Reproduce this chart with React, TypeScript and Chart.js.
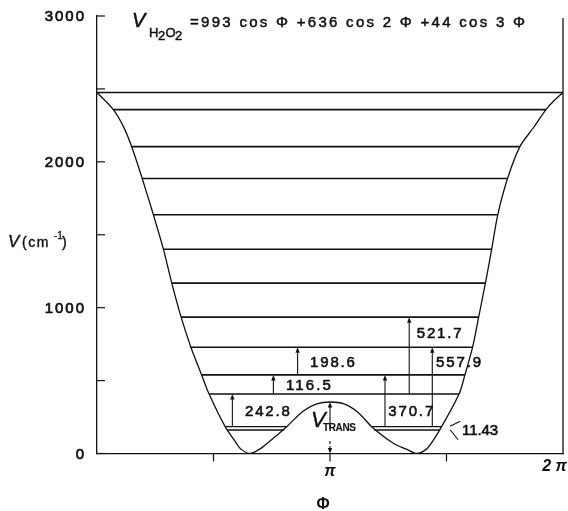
import React, { useEffect, useRef } from "react";
import { Chart, registerables } from "chart.js";
Chart.register(...registerables);

// Potential curve V(Φ), Φ in units of π, V in cm^-1
const curvePhi = [0, 0.07, 0.113, 0.149, 0.194, 0.242, 0.285, 0.321, 0.361, 0.403, 0.449, 0.481, 0.55, 0.59, 0.618, 0.657, 0.698, 0.74, 0.814, 0.886, 0.943, 1.0, 1.06, 1.122, 1.179, 1.272, 1.33, 1.372, 1.414, 1.445, 1.479, 1.554, 1.579, 1.612, 1.638, 1.667, 1.694, 1.72, 1.762, 1.815, 1.872, 1.927, 1.962, 2.0];
const curveV = [2475, 2358, 2243, 2104, 1886, 1637, 1401, 1168, 935, 729, 539, 408, 184, 90, 30, 0, 30, 82, 184, 292, 340, 353, 340, 280, 184, 70, 28, 0, 30, 95, 184, 408, 539, 729, 935, 1168, 1401, 1637, 1886, 2104, 2232, 2358, 2420, 2475];

// Torsional energy levels
const levelV = [2475, 2358, 2104, 1886, 1637, 1401, 1168, 935, 729, 539, 408];
const levelLeft = [0, 0.07, 0.149, 0.194, 0.242, 0.285, 0.321, 0.361, 0.403, 0.449, 0.481];
const levelRight = [2.0, 1.927, 1.815, 1.762, 1.72, 1.694, 1.667, 1.638, 1.612, 1.579, 1.554];

// Split ground levels (inside the two wells)
const splitV = [184, 161];
const splitLeftStart = [0.55, 0.56];
const splitLeftEnd = [0.814, 0.803];
const splitRightStart = [1.179, 1.19];
const splitRightEnd = [1.479, 1.468];

// Transition arrows
const arrowPhi = [0.581, 0.757, 0.861, 1.236, 1.34, 1.439];
const arrowFrom = [184, 408, 539, 184, 408, 184];
const arrowTo = [408, 539, 729, 539, 935, 729];
const gapLabels = ["242.8", "116.5", "198.6", "370.7", "521.7", "557.9"];
const gapLabelPhi = [0.635, 0.811, 0.914, 1.25, 1.372, 1.455];
const gapLabelV = [294, 470, 630, 294, 827, 630];

const splitLabel = "11.43";
const splitLabelPhi = 1.567;
const splitLabelV = 163;

const barrierPhi = 1.0;
const barrierV = 353;

const yTicks = [0, 500, 1000, 1500, 2000, 2500, 3000];
const yTickLabels = ["0", "", "1000", "", "2000", "", "3000"];
const xTicks = [0.5, 1, 1.5, 2];
const xTickLabels = ["", "π", "", "2 π"];

const titleMain = "=993 cos Φ +636 cos 2 Φ +44 cos 3 Φ";
const FONT = '"Liberation Sans", Arial, sans-serif';
const INK = "#111";

function heavy(ctx: CanvasRenderingContext2D, text: string, x: number, y: number, sw = 0.55) {
  ctx.fillText(text, x, y);
  ctx.save();
  ctx.lineWidth = sw;
  ctx.lineJoin = "round";
  ctx.strokeText(text, x, y);
  ctx.restore();
}

function fitText(ctx: CanvasRenderingContext2D, text: string, x: number, y: number, width: number, sw = 0.55) {
  ctx.letterSpacing = "0px";
  const w = ctx.measureText(text).width;
  const n = text.length;
  const ls = n > 1 ? (width - w) / (n - 1) : 0;
  ctx.letterSpacing = ls + "px";
  ctx.textAlign = "left";
  heavy(ctx, text, x, y, sw);
  ctx.letterSpacing = "0px";
}

function arrow(ctx: CanvasRenderingContext2D, x: number, y1: number, y2: number, dashed = false) {
  ctx.save();
  ctx.strokeStyle = INK;
  ctx.fillStyle = INK;
  ctx.lineWidth = 1.1;
  if (dashed) ctx.setLineDash([3, 2]);
  const dir = y2 < y1 ? 1 : -1;
  ctx.beginPath();
  ctx.moveTo(x, y1);
  ctx.lineTo(x, y2 + dir * 4);
  ctx.stroke();
  ctx.setLineDash([]);
  ctx.beginPath();
  ctx.moveTo(x, y2);
  ctx.lineTo(x - 2.2, y2 + dir * 5.5);
  ctx.lineTo(x + 2.2, y2 + dir * 5.5);
  ctx.closePath();
  ctx.fill();
  ctx.restore();
}

const annotate = {
  id: "annotate",
  afterDraw(chart: any) {
    const ctx: CanvasRenderingContext2D = chart.ctx;
    const xs = chart.scales.x;
    const ys = chart.scales.y;
    const { left, right, top, bottom } = chart.chartArea;
    const X = (v: number) => xs.getPixelForValue(v);
    const Y = (v: number) => ys.getPixelForValue(v);
    ctx.save();
    ctx.fillStyle = INK;
    ctx.strokeStyle = INK;
    ctx.textBaseline = "middle";

    // right frame line
    ctx.lineWidth = 1.3;
    ctx.beginPath();
    ctx.moveTo(right, top + 2);
    ctx.lineTo(right, bottom);
    ctx.stroke();

    // y ticks (inside) and labels
    yTicks.forEach((t, i) => {
      const py = Y(t);
      ctx.lineWidth = 1.2;
      ctx.beginPath();
      ctx.moveTo(left, py);
      ctx.lineTo(left + 8, py);
      ctx.stroke();
      const lab = yTickLabels[i];
      if (lab) {
        ctx.font = `15px ${FONT}`;
        ctx.letterSpacing = "2px";
        const w = ctx.measureText(lab).width - 2;
        ctx.textAlign = "left";
        heavy(ctx, lab, left - 13 - w, py + 1, 0.7);
        ctx.letterSpacing = "0px";
      }
    });

    // x ticks (outside) and labels
    xTicks.forEach((t, i) => {
      const px = X(t);
      if (t < 2) {
        ctx.lineWidth = 1.2;
        ctx.beginPath();
        ctx.moveTo(px, bottom);
        ctx.lineTo(px, bottom + 8);
        ctx.stroke();
      }
      const lab = xTickLabels[i];
      if (lab) {
        ctx.font = `bold italic 16px ${FONT}`;
        if (t >= 2) {
          ctx.textAlign = "right";
          ctx.fillText(lab, px + 4, bottom + 13);
        } else {
          ctx.textAlign = "center";
          ctx.fillText(lab, px, bottom + 18);
        }
      }
    });

    // axis titles
    ctx.textBaseline = "alphabetic";
    ctx.textAlign = "left";
    ctx.font = `italic 17px ${FONT}`;
    heavy(ctx, "V", 8, 247, 0.4);
    ctx.font = `14px ${FONT}`;
    ctx.letterSpacing = "1.5px";
    heavy(ctx, "(cm", 22, 247, 0.4);
    ctx.letterSpacing = "0px";
    ctx.font = `10px ${FONT}`;
    heavy(ctx, "-1", 54, 239, 0.3);
    ctx.font = `14px ${FONT}`;
    heavy(ctx, ")", 62, 247, 0.4);

    ctx.font = `bold 16px ${FONT}`;
    ctx.textAlign = "center";
    ctx.textBaseline = "middle";
    ctx.fillText("Φ", 323, 505);

    // formula title
    ctx.textBaseline = "alphabetic";
    ctx.textAlign = "left";
    ctx.font = `italic 20px ${FONT}`;
    heavy(ctx, "V", 132, 27, 0.5);
    ctx.font = `13px ${FONT}`;
    heavy(ctx, "H", 149, 36.5, 0.45);
    heavy(ctx, "2", 158, 40, 0.45);
    heavy(ctx, "O", 165.5, 36.5, 0.45);
    heavy(ctx, "2", 175, 40, 0.45);
    ctx.font = `15px ${FONT}`;
    fitText(ctx, titleMain, 190, 27.3, 335, 0.5);

    // arrows and gap labels
    ctx.textBaseline = "middle";
    arrowPhi.forEach((p, i) => arrow(ctx, X(p), Y(arrowFrom[i]), Y(arrowTo[i])));
    ctx.font = `15px ${FONT}`;
    gapLabels.forEach((lab, i) => {
      fitText(ctx, lab, X(gapLabelPhi[i]), Y(gapLabelV[i]) + 1, 45, 0.6);
    });

    // splitting label with "<" marker
    const sx = X(splitLabelPhi);
    const sy = Y(splitLabelV);
    fitText(ctx, splitLabel, sx, sy + 1, 36, 0.6);
    ctx.lineWidth = 1.1;
    ctx.beginPath();
    ctx.moveTo(sx - 2, sy - 8.5);
    ctx.lineTo(sx - 12, sy - 3.5);
    ctx.moveTo(sx - 12, sy);
    ctx.lineTo(sx - 4, sy + 10);
    ctx.stroke();

    // barrier (V_TRANS) arrows
    const bx = X(barrierPhi);
    arrow(ctx, bx, Y(170), Y(barrierV));
    arrow(ctx, bx, Y(85), Y(0), true);
    ctx.textBaseline = "alphabetic";
    ctx.font = `italic 22px ${FONT}`;
    heavy(ctx, "V", 311, 427, 0.4);
    ctx.font = `bold 10px ${FONT}`;
    fitText(ctx, "TRANS", 323, 430.5, 33, 0.1);

    ctx.restore();
  },
};

export default function App() {
  const ref = useRef<HTMLCanvasElement | null>(null);
  useEffect(() => {
    if (!ref.current) return;
    const lineDs = (pts: { x: number; y: number }[], w = 1.5) => ({
      data: pts,
      borderColor: INK,
      borderWidth: w,
      pointRadius: 0,
      tension: 0,
      fill: false,
    });
    const datasets: any[] = [];
    datasets.push({
      ...lineDs(curvePhi.map((p, i) => ({ x: p, y: curveV[i] })), 1.3),
      tension: 0.3,
    });
    levelV.forEach((v, i) => {
      datasets.push(lineDs([{ x: levelLeft[i], y: v }, { x: levelRight[i], y: v }], 1.6));
    });
    splitV.forEach((v, i) => {
      datasets.push(lineDs([{ x: splitLeftStart[i], y: v }, { x: splitLeftEnd[i], y: v }], 1.3));
      datasets.push(lineDs([{ x: splitRightStart[i], y: v }, { x: splitRightEnd[i], y: v }], 1.3));
    });
    const chart = new Chart(ref.current, {
      type: "line",
      data: { datasets },
      plugins: [annotate],
      options: {
        animation: false,
        responsive: true,
        maintainAspectRatio: false,
        devicePixelRatio: 1,
        layout: { autoPadding: false, padding: { top: 16, right: 5, left: 0, bottom: 0 } } as any,
        plugins: { legend: { display: false }, tooltip: { enabled: false }, title: { display: false } },
        events: [],
        scales: {
          x: {
            type: "linear",
            min: 0,
            max: 2,
            ticks: { display: false },
            grid: { display: false },
            border: { display: true, color: INK, width: 1.3 },
            afterFit: (s: any) => {
              s.height = 57.5;
            },
          },
          y: {
            type: "linear",
            min: 0,
            max: 3000,
            ticks: { display: false },
            grid: { display: false },
            border: { display: true, color: INK, width: 1.3 },
            afterFit: (s: any) => {
              s.width = 97;
            },
          },
        },
      },
    });
    return () => chart.destroy();
  }, []);
  return (
    <div style={{ position: "fixed", left: 0, top: 0, width: 568, height: 511, background: "#fff" }}>
      <canvas ref={ref} />
    </div>
  );
}
